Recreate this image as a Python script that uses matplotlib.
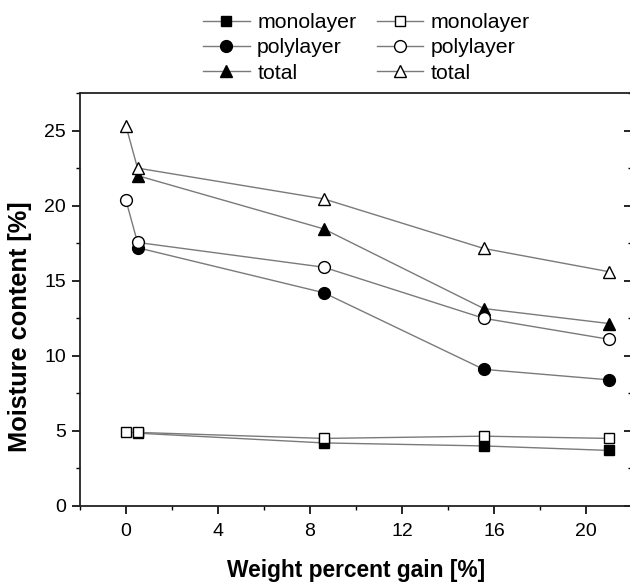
import matplotlib
matplotlib.use("Agg")
import matplotlib.pyplot as plt
from matplotlib.ticker import MultipleLocator

plt.rcParams['font.family'] = ['Liberation Sans', 'DejaVu Sans']

# Data (filled = first set, open = second set)
x_filled = [0.5, 8.6, 15.55, 21.0]
x_open = [0.0, 0.5, 8.6, 15.55, 21.0]

mono_filled = [4.85, 4.2, 4.0, 3.7]
poly_filled = [17.2, 14.2, 9.1, 8.4]
total_filled = [22.0, 18.45, 13.15, 12.15]

mono_open = [4.9, 4.9, 4.5, 4.65, 4.5]
poly_open = [20.35, 17.55, 15.9, 12.5, 11.1]
total_open = [25.3, 22.5, 20.45, 17.15, 15.6]

labels = ["monolayer", "polylayer", "total"]

fig = plt.figure(figsize=(6.30, 5.82), dpi=100)
ax = fig.add_axes([80/630, 1-506/582, 552/630, 413/582])

lc = '#7a7a7a'
lw = 1.0
common = dict(color=lc, lw=lw, markeredgecolor='black', markeredgewidth=1.0)

h1, = ax.plot(x_filled, mono_filled, marker='s', ms=7.5, markerfacecolor='black', label=labels[0], **common)
h2, = ax.plot(x_filled, poly_filled, marker='o', ms=8.5, markerfacecolor='black', label=labels[1], **common)
h3, = ax.plot(x_filled, total_filled, marker='^', ms=9, markerfacecolor='black', label=labels[2], **common)
h4, = ax.plot(x_open, mono_open, marker='s', ms=7.5, markerfacecolor='white', label=labels[0], **common)
h5, = ax.plot(x_open, poly_open, marker='o', ms=8.5, markerfacecolor='white', label=labels[1], **common)
h6, = ax.plot(x_open, total_open, marker='^', ms=9, markerfacecolor='white', label=labels[2], **common)

ax.set_xlim(-2, 22)
ax.set_ylim(0, 27.5)
ax.xaxis.set_major_locator(MultipleLocator(4))
ax.xaxis.set_minor_locator(MultipleLocator(2))
ax.yaxis.set_major_locator(MultipleLocator(5))
ax.yaxis.set_minor_locator(MultipleLocator(2.5))

for s in ax.spines.values():
    s.set_linewidth(1.3)
    s.set_color('#222222')

ax.tick_params(axis='x', which='major', direction='out', length=6, width=1.2, pad=6, labelsize=14)
ax.tick_params(axis='x', which='minor', direction='out', length=3, width=1.0)
ax.tick_params(axis='y', which='major', direction='out', length=6, width=1.2, pad=4, labelsize=14,
               right=True)
ax.tick_params(axis='y', which='minor', direction='out', length=3, width=1.0, right=True)
# right ticks inward
for t in ax.yaxis.get_major_ticks() + ax.yaxis.get_minor_ticks():
    t.tick2line.set_marker(matplotlib.lines.TICKLEFT)

ax.set_xlabel("Weight percent gain [%]", fontsize=16.4, fontweight='bold', labelpad=14)
ax.set_ylabel("Moisture content [%]", fontsize=18.3, fontweight='bold')
ax.yaxis.set_label_coords(-0.087, 0.433)

leg = fig.legend(handles=[h1, h2, h3, h4, h5, h6], ncol=2, loc='upper left',
                 bbox_to_anchor=(203/630, 1-13/582), frameon=False, fontsize=15.3,
                 handlelength=2.2, handletextpad=0.35, columnspacing=0.95,
                 labelspacing=0.3, borderpad=0, borderaxespad=0)

fig.savefig("out.png", dpi=100)
